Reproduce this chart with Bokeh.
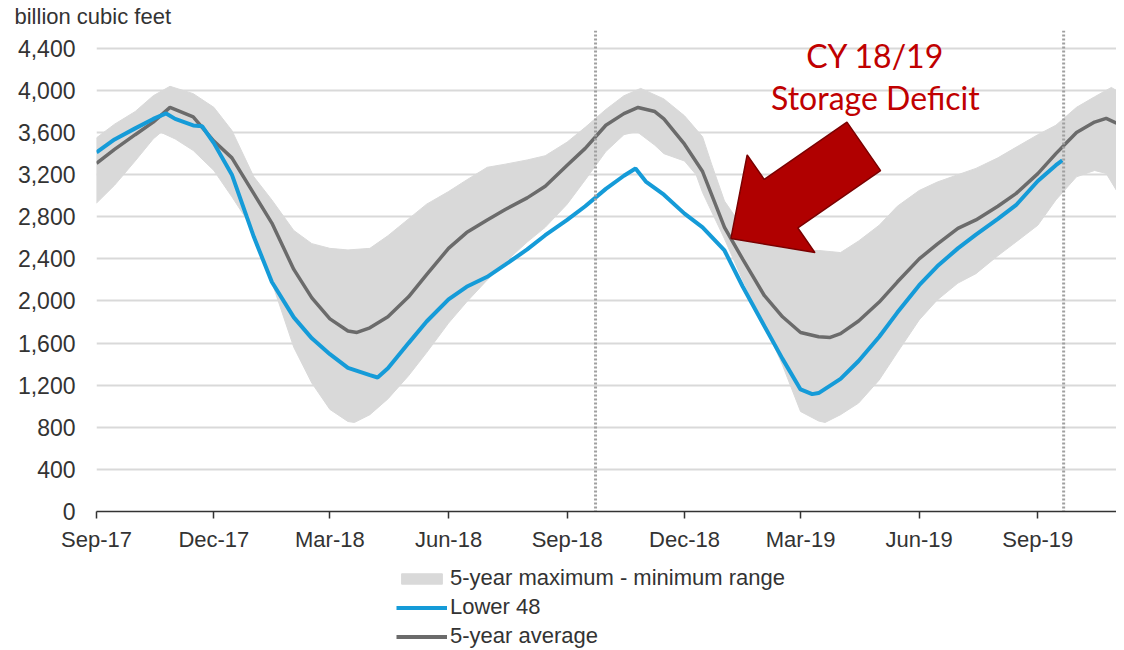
import numpy as np
import pandas as pd
from bokeh.plotting import figure
from bokeh.layouts import column
from bokeh.models import (Range1d, FixedTicker, NumeralTickFormatter, CustomJSTickFormatter,
                          Span, Label, Legend, LegendItem)
from bokeh.embed import file_html
from bokeh.resources import INLINE

# ---------------- data ----------------
l48_dates = ["2017-09-01", "2017-09-15", "2017-10-01", "2017-10-15", "2017-10-25", "2017-11-01",
             "2017-11-15", "2017-11-22", "2017-12-01", "2017-12-15",
             "2018-01-01", "2018-01-15", "2018-02-01", "2018-02-15", "2018-03-01", "2018-03-15",
             "2018-04-01", "2018-04-07", "2018-04-15", "2018-05-01", "2018-05-15", "2018-06-01",
             "2018-06-15", "2018-07-01", "2018-07-15", "2018-08-01", "2018-08-15", "2018-09-01",
             "2018-09-15", "2018-10-01", "2018-10-15", "2018-10-24", "2018-11-01", "2018-11-15",
             "2018-12-01", "2018-12-15",
             "2019-01-01", "2019-01-15", "2019-02-01", "2019-02-15", "2019-03-01", "2019-03-10",
             "2019-03-15", "2019-04-01", "2019-04-15", "2019-05-01", "2019-05-15", "2019-06-01",
             "2019-06-15", "2019-07-01", "2019-07-15", "2019-08-01", "2019-08-15", "2019-09-01",
             "2019-09-15", "2019-09-20"]
l48_values = [3412, 3535, 3640, 3730, 3782, 3730, 3668, 3660, 3500, 3200,
              2610, 2180, 1844, 1645, 1495, 1365, 1295, 1273, 1360, 1600, 1805, 2015, 2135, 2230,
              2345, 2490, 2625, 2770, 2900, 3065, 3190, 3259, 3135, 3010, 2830, 2700,
              2480, 2140, 1760, 1450, 1160, 1115, 1125, 1260, 1430, 1660, 1890, 2150, 2330, 2500,
              2630, 2780, 2910, 3140, 3290, 3336]

avg_dates = ["2017-09-01", "2017-09-15", "2017-10-01", "2017-10-15", "2017-10-28", "2017-11-15",
             "2017-12-01", "2017-12-15",
             "2018-01-01", "2018-01-15", "2018-02-01", "2018-02-15", "2018-03-01", "2018-03-15",
             "2018-03-22", "2018-04-01", "2018-04-15", "2018-05-01", "2018-05-15", "2018-06-01",
             "2018-06-15", "2018-07-01", "2018-07-15", "2018-08-01", "2018-08-15", "2018-09-01",
             "2018-09-15", "2018-10-01", "2018-10-15", "2018-10-26", "2018-11-08", "2018-11-15",
             "2018-12-01", "2018-12-15",
             "2019-01-01", "2019-01-15", "2019-02-01", "2019-02-15", "2019-03-01", "2019-03-15",
             "2019-03-24", "2019-04-01", "2019-04-15", "2019-05-01", "2019-05-15", "2019-06-01",
             "2019-06-15", "2019-07-01", "2019-07-15", "2019-08-01", "2019-08-15", "2019-09-01",
             "2019-09-15", "2019-10-01", "2019-10-15", "2019-10-24", "2019-11-01"]
avg_values = [3307, 3440, 3580, 3700, 3839, 3750, 3520, 3360,
              3020, 2740, 2300, 2030, 1830, 1715, 1701, 1745, 1850, 2040, 2250, 2500, 2650, 2770,
              2870, 2980, 3090, 3290, 3450, 3670, 3780, 3839, 3800, 3730, 3490, 3230,
              2700, 2400, 2050, 1850, 1701, 1660, 1654, 1690, 1810, 1990, 2180, 2400, 2540, 2690,
              2770, 2900, 3020, 3210, 3400, 3600, 3700, 3735, 3690]

max_dates = ["2017-09-01", "2017-09-15", "2017-10-01", "2017-10-15", "2017-10-28", "2017-11-15",
             "2017-12-01", "2017-12-15",
             "2018-01-01", "2018-01-15", "2018-02-01", "2018-02-15", "2018-03-01", "2018-03-15",
             "2018-04-01", "2018-04-15", "2018-05-01", "2018-05-15", "2018-06-01", "2018-06-15",
             "2018-07-01", "2018-07-15", "2018-08-01", "2018-08-15", "2018-09-01", "2018-09-15",
             "2018-10-01", "2018-10-15", "2018-10-28", "2018-11-15", "2018-12-01", "2018-12-15",
             "2018-12-22",
             "2019-01-01", "2019-01-15", "2019-02-01", "2019-02-15", "2019-03-01", "2019-03-15",
             "2019-04-01", "2019-04-15", "2019-05-01", "2019-05-15", "2019-06-01", "2019-06-15",
             "2019-07-01", "2019-07-15", "2019-08-01", "2019-08-15", "2019-09-01", "2019-09-15",
             "2019-10-01", "2019-10-15", "2019-10-28", "2019-11-01"]
max_values = [3550, 3680, 3800, 3950, 4040, 3970, 3840, 3620,
              3180, 2960, 2670, 2545, 2500, 2485, 2500, 2620, 2780, 2920, 3040, 3150, 3270, 3300,
              3340, 3380, 3510, 3650, 3820, 3950, 4020, 3920, 3760, 3560, 3300,
              2950, 2700, 2560, 2500, 2480, 2480, 2460, 2570, 2720, 2900, 3050, 3130, 3200, 3260,
              3360, 3460, 3580, 3670, 3840, 3940, 4029, 4000]

min_dates = ["2017-09-01", "2017-09-15", "2017-10-01", "2017-10-15", "2017-10-21", "2017-11-01",
             "2017-11-15", "2017-12-01", "2017-12-15",
             "2018-01-01", "2018-01-15", "2018-02-01", "2018-02-15", "2018-03-01", "2018-03-15",
             "2018-03-20", "2018-04-01", "2018-04-15", "2018-05-01", "2018-05-15", "2018-06-01",
             "2018-06-15", "2018-07-01", "2018-07-15", "2018-08-01", "2018-08-15", "2018-09-01",
             "2018-09-15", "2018-10-01", "2018-10-15", "2018-10-25", "2018-11-08", "2018-11-15",
             "2018-12-01", "2018-12-10", "2018-12-15",
             "2019-01-01", "2019-01-15", "2019-02-01", "2019-02-15", "2019-03-01", "2019-03-15",
             "2019-03-20", "2019-04-01", "2019-04-15", "2019-05-01", "2019-05-15", "2019-06-01",
             "2019-06-15", "2019-07-01", "2019-07-15", "2019-08-01", "2019-08-15", "2019-09-01",
             "2019-09-15", "2019-10-01", "2019-10-15", "2019-10-24", "2019-11-01"]
min_values = [2930, 3100, 3330, 3540, 3602, 3540, 3430, 3240, 2990,
              2670, 2180, 1560, 1220, 970, 855, 846, 920, 1070, 1290, 1510, 1790, 1990, 2200, 2370,
              2560, 2700, 2920, 3150, 3420, 3580, 3610, 3480, 3400, 3330, 3200, 3030,
              2590, 2200, 1780, 1390, 950, 860, 846, 920, 1030, 1250, 1510, 1820, 2010, 2170, 2260,
              2430, 2560, 2720, 2960, 3180, 3240, 3212, 3050]

tick_dates = ["2017-09-01", "2017-12-01", "2018-03-01", "2018-06-01", "2018-09-01",
              "2018-12-01", "2019-03-01", "2019-06-01", "2019-09-01"]
tick_labels = ["Sep-17", "Dec-17", "Mar-18", "Jun-18", "Sep-18",
               "Dec-18", "Mar-19", "Jun-19", "Sep-19"]
y_ticks = [0, 400, 800, 1200, 1600, 2000, 2400, 2800, 3200, 3600, 4000, 4400]
marker_dates = ["2018-09-23", "2019-09-21"]

legend_labels = ["5-year maximum - minimum range", "Lower 48", "5-year average"]
note_lines = ["CY 18/19", "Storage Deficit"]
unit_label = "billion cubic feet"

# ---------------- styles ----------------
BAND = "#d9d9d9"
BLUE = "#159bd8"
GREY = "#6b6b6b"
FONT = "Liberation Sans"
TXT = "#333333"

def to_ms(dates):
    return pd.to_datetime(dates).values.astype("datetime64[ms]").astype("int64").astype(float)

X0, X1 = to_ms(["2017-09-01", "2019-11-01"])
Y0, Y1 = 0, 4570

W, H1, H2 = 1116, 560, 90
ML, MT, MB = 96, 30, 49
FW, FH = W - ML, H1 - MT - MB
px_per_ms = FW / (X1 - X0)
px_per_val = FH / (Y1 - Y0)

p = figure(width=W, height=H1, x_range=Range1d(X0, X1), y_range=Range1d(Y0, Y1),
           x_axis_type="datetime", output_backend="svg", toolbar_location=None,
           min_border_left=ML, min_border_right=0, min_border_top=MT, min_border_bottom=MB,
           outline_line_color=None, background_fill_color="white", border_fill_color="white",
           title=unit_label)
p.title.align = "left"
p.title.offset = -82
p.title.text_font = FONT
p.title.text_font_size = "22px"
p.title.text_font_style = "normal"
p.title.text_color = TXT
p.title.standoff = 3
p.title.vertical_align = "bottom"

# band
band_x = np.concatenate([to_ms(max_dates), to_ms(min_dates)[::-1]])
band_y = np.concatenate([np.array(max_values, float), np.array(min_values, float)[::-1]])
p.patch(band_x, band_y, fill_color=BAND, line_color=BAND, line_width=1)

# dotted markers
for d in to_ms(marker_dates):
    p.add_layout(Span(location=d, dimension="height", line_color="#a0a0a0",
                      line_width=3, line_dash="2 2", level="glyph"))

p.line(to_ms(avg_dates), avg_values, line_color=GREY, line_width=3.5)
p.line(to_ms(l48_dates), l48_values, line_color=BLUE, line_width=4)

# arrow annotation (tip / tail in data coords, widths in px)
tip_ms, tail_ms = to_ms(["2019-01-06", "2019-04-19"])
tip_val, tail_val = 2594, 3469
body_w, head_w, head_len = 59, 119, 61
cx, cy = (tail_ms - tip_ms) * px_per_ms, (tail_val - tip_val) * px_per_val
L = np.hypot(cx, cy)
ux, uy = -cx / L, -cy / L
nx, ny = -uy, ux
bx, by = -ux * head_len, -uy * head_len
pts = [(cx + nx * body_w / 2, cy + ny * body_w / 2),
       (bx + nx * body_w / 2, by + ny * body_w / 2),
       (bx + nx * head_w / 2, by + ny * head_w / 2),
       (0.0, 0.0),
       (bx - nx * head_w / 2, by - ny * head_w / 2),
       (bx - nx * body_w / 2, by - ny * body_w / 2),
       (cx - nx * body_w / 2, cy - ny * body_w / 2)]
arrow_x = [tip_ms + px / px_per_ms for px, _ in pts]
arrow_y = [tip_val + py / px_per_val for _, py in pts]
p.patch(arrow_x, arrow_y, fill_color="#b00000", line_color="#7a0000", line_width=1.5)

# red note text
note_x = to_ms(["2019-04-28"])[0]
for txt, yv in zip(note_lines, [4333, 3934]):
    p.add_layout(Label(x=note_x, y=yv, text=txt, text_align="center", text_baseline="middle",
                       text_font="Lato", text_font_size="32px", text_color="#c00000"))

# axes
p.xaxis.ticker = FixedTicker(ticks=list(to_ms(tick_dates)))
p.xaxis.formatter = CustomJSTickFormatter(
    args=dict(keys=[int(v) for v in to_ms(tick_dates)], labels=tick_labels),
    code="""
    for (let i = 0; i < keys.length; i++) { if (Math.abs(keys[i] - tick) < 1000) return labels[i]; }
    return "";
    """)
p.xaxis.axis_line_color = "#333333"
p.xaxis.axis_line_width = 1.5
p.xaxis.major_tick_line_color = "#333333"
p.xaxis.major_tick_line_width = 1.5
p.xaxis.major_tick_out = 7
p.xaxis.major_tick_in = 0
p.xaxis.minor_tick_line_color = None
p.xaxis.major_label_standoff = 8
p.xaxis.major_label_text_font = FONT
p.xaxis.major_label_text_font_size = "22px"
p.xaxis.major_label_text_color = TXT

p.yaxis.ticker = FixedTicker(ticks=y_ticks)
p.yaxis.formatter = NumeralTickFormatter(format="0,0")
p.yaxis.axis_line_color = None
p.yaxis.major_tick_line_color = None
p.yaxis.minor_tick_line_color = None
p.yaxis.major_tick_out = 0
p.yaxis.major_tick_in = 0
p.yaxis.major_label_standoff = 21
p.yaxis.major_label_text_font = FONT
p.yaxis.major_label_text_font_size = "23px"
p.yaxis.major_label_text_color = TXT

p.xgrid.grid_line_color = None
p.ygrid.grid_line_color = "#d9d9d9"
p.ygrid.grid_line_width = 2

# ---------------- legend strip below ----------------
q = figure(width=W, height=H2, x_range=Range1d(0, 1), y_range=Range1d(0, 1),
           output_backend="svg", toolbar_location=None, x_axis_location=None,
           y_axis_location=None, min_border=0, outline_line_color=None,
           background_fill_color="white", border_fill_color="white")
q.xgrid.grid_line_color = None
q.ygrid.grid_line_color = None
# off-range sample renderers, used only for the legend swatches
rb = q.patch([2, 3, 3], [2, 2, 3], fill_color=BAND, line_color=BAND)
rl = q.line([2, 3], [2, 2], line_color=BLUE, line_width=4)
ra = q.line([2, 3], [2, 2], line_color=GREY, line_width=4)
legend = Legend(items=[LegendItem(label=legend_labels[0], renderers=[rb]),
                       LegendItem(label=legend_labels[1], renderers=[rl]),
                       LegendItem(label=legend_labels[2], renderers=[ra])],
                location=(300, 1), orientation="vertical",
                background_fill_alpha=0, border_line_color=None,
                label_text_font=FONT, label_text_font_size="22px", label_text_color=TXT,
                glyph_width=51, glyph_height=13, label_height=20, spacing=3,
                padding=0, margin=0, label_standoff=3)
q.add_layout(legend)

open("out.html", "w").write(file_html(column(p, q, spacing=0), INLINE))
